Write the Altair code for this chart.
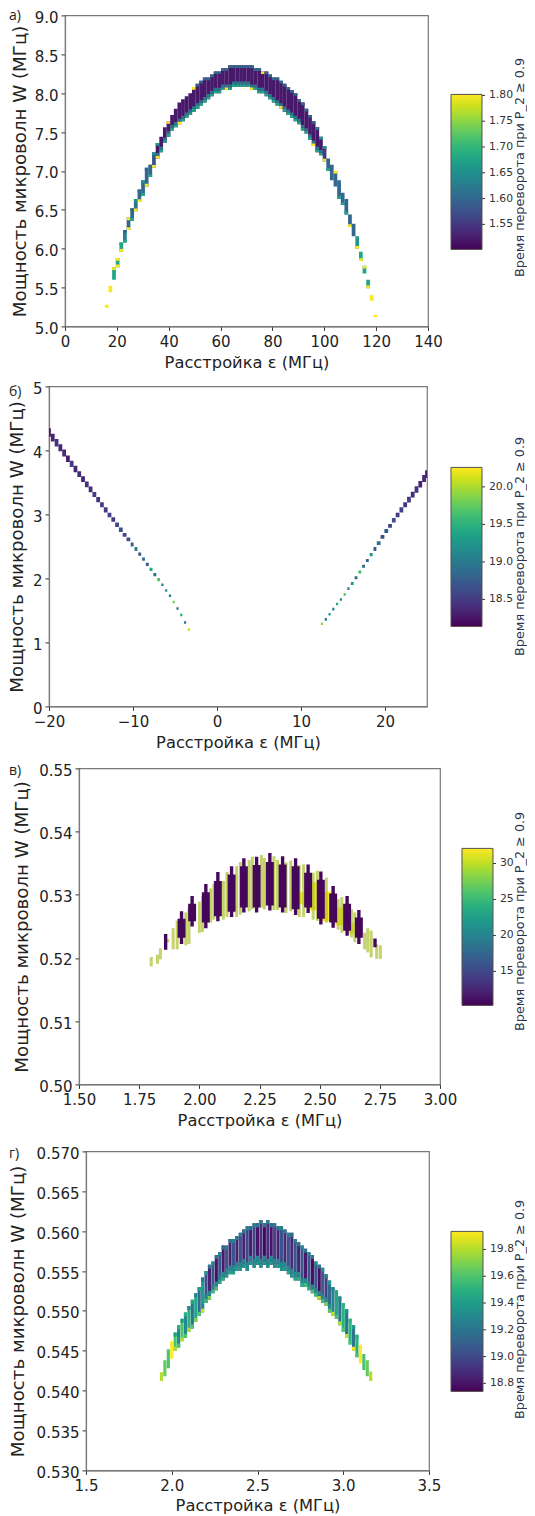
import altair as alt
import pandas as pd

# ---------- panel a ----------
a_x = [16.1,17.5,18.9,20.3,21.7,23.1,24.5,25.9,27.3,28.7,30.1,31.5,32.9,34.3,35.7,37.1,38.5,39.9,41.3,42.7,
       44.1,45.5,46.9,48.3,49.7,51.1,52.5,53.9,55.3,56.7,58.1,59.5,60.9,62.3,63.7,65.1,66.5,67.9,69.3,70.7,
       72.1,73.5,74.9,76.3,77.7,79.1,80.5,81.9,83.3,84.7,86.1,87.5,88.9,90.3,91.7,93.1,94.5,95.9,97.3,98.7,
       100.1,101.5,102.9,104.3,105.7,107.1,108.5,109.9,111.3,112.7,114.1,115.5,116.9,118.3,119.7]
a_low = [5.24,5.44,5.60,5.76,5.96,6.08,6.24,6.36,6.48,6.60,6.68,6.80,6.92,7.04,7.16,7.24,7.36,7.44,7.52,7.56,
         7.60,7.64,7.68,7.72,7.76,7.80,7.84,7.88,7.92,7.96,8.00,8.00,8.04,8.04,8.04,8.08,8.08,8.08,8.08,8.08,
         8.04,8.04,8.00,8.00,7.96,7.92,7.88,7.84,7.80,7.76,7.72,7.68,7.64,7.60,7.52,7.48,7.40,7.32,7.24,7.20,
         7.12,7.00,6.88,6.80,6.64,6.56,6.44,6.28,6.16,6.00,5.84,5.68,5.49,5.33,5.12]
a_high = [5.28,5.52,5.76,5.88,6.08,6.24,6.40,6.52,6.64,6.76,6.88,7.04,7.08,7.24,7.36,7.44,7.56,7.64,7.72,7.80,
          7.88,7.92,7.96,8.00,8.08,8.12,8.16,8.20,8.20,8.24,8.28,8.28,8.32,8.32,8.36,8.36,8.36,8.36,8.36,8.36,
          8.36,8.32,8.32,8.28,8.28,8.24,8.20,8.20,8.16,8.12,8.08,8.04,8.00,7.92,7.88,7.80,7.72,7.64,7.56,7.44,
          7.32,7.16,7.08,7.00,6.88,6.72,6.64,6.44,6.32,6.16,5.96,5.78,5.60,5.40,5.15]
a_body = [1.80,1.80,1.68,1.68,1.68,1.63,1.60,1.60,1.62,1.60,1.60,1.60,1.60,1.58] + [1.52]*46 + \
         [1.55,1.60,1.60,1.60,1.60,1.60,1.60,1.60,1.60,1.66,1.68,1.68,1.68,1.80,1.80]
a_top = [None,None,1.80,1.80,1.68,1.60,1.80,1.60,1.66,1.60,1.66,1.60,1.60,1.66,1.66,None,None,1.80] + [None]*6 + \
        [1.80] + [1.60]*18 + [1.80] + [1.60]*15 + [1.66,1.66,None,None,1.80,None,None,None,None,None,None,None,1.80,None,None,None]
a_bot1 = [None,None,None,1.80,1.80,1.68,1.80,1.68,1.80,1.80,1.68,1.80,1.68,1.80,1.80,1.68,1.68,1.68,1.68,1.68,1.80] + \
         [1.68]*12 + [1.80] + [1.68]*6 + [1.80] + [1.68]*7 + [1.80] + [1.68]*8 + [1.80,1.68,1.68,1.80,1.68,None,None,
         1.68,1.68,1.68,1.80,None,1.80,1.80,None,1.80,None,None]
a_bot2 = [None]*14 + [1.62]*46 + [None]*15

# ---------- panel b ----------
b_left_x = [-20.00,-19.55,-19.10,-18.65,-18.20,-17.75,-17.30,-16.85,-16.40,-15.95,-15.50,-15.05,-14.60,-14.15,-13.70,-13.25,
            -12.80,-12.35,-11.90,-11.45,-11.00,-10.55,-10.10,-9.65,-9.20,-8.75,-8.30,-7.85,-7.40,-6.95,-6.50,-6.05,-5.60,-5.15,-4.70,-4.25,-3.80,-3.35]
b_left_w = [4.28,4.20,4.12,4.04,3.96,3.87,3.79,3.71,3.63,3.55,3.47,3.39,3.31,3.23,3.15,3.07,2.99,2.92,2.84,2.76,2.68,2.61,2.53,
            2.46,2.38,2.30,2.22,2.14,2.06,1.98,1.90,1.81,1.73,1.63,1.53,1.43,1.31,1.20]
b_left_thick = [.13,.12,.12,.11,.11,.10,.10,.10,.09,.09,.09,.09,.08,.08,.08,.08,.07,.07,.07,.07,.06,.06,.06,.06,.05,.05,.05,.05,.05,.05,
                .04,.04,.04,.04,.04,.04,.04,.04]
b_left_half = [.225]*22 + [.17]*8 + [.13]*8
b_left_t = [18.3,18.35,18.45,18.35,18.4,18.3,18.5,18.35,18.4,18.35,18.45,18.4,18.5,18.45,18.55,18.5,18.55,18.5,18.6,18.65,
            18.55,18.65,18.75,19.0,18.65,18.9,18.75,19.4,18.9,19.7,19.0,19.2,19.0,19.8,18.9,19.5,19.0,20.1]
b_right_x = [12.50,12.95,13.40,13.85,14.30,14.75,15.20,15.65,16.10,16.55,17.00,17.45,17.90,18.35,18.80,19.25,19.70,20.15,20.60,
             21.05,21.50,21.95,22.40,22.85,23.30,23.75,24.20,24.65,25.00]
b_right_w = [1.29,1.36,1.44,1.52,1.60,1.67,1.75,1.84,1.92,2.01,2.10,2.19,2.28,2.37,2.46,2.55,2.65,2.74,2.82,2.91,2.99,3.07,3.15,
             3.23,3.31,3.39,3.47,3.56,3.63]
b_right_thick = [.04]*8 + [.05]*6 + [.06]*4 + [.06,.07,.07,.08,.08,.09,.09,.10,.10,.11,.12]
b_right_half = [.13]*8 + [.17]*7 + [.225]*14
b_right_t = [19.9,19.0,19.3,19.0,19.4,19.1,19.7,19.0,19.3,18.9,19.6,18.9,18.85,19.2,18.75,18.9,18.65,18.75,18.55,18.65,18.5,18.55,18.45,
             18.5,18.4,18.45,18.35,18.35,18.3]

# ---------- panel c ----------
c_stripe_x = [1.86,1.926,1.97,2.027,2.077,2.134,2.185,2.238,2.293,2.346,2.40,2.452,2.505,2.556,2.614,2.663,2.73]
c_stripe_lo = [.5213,.5222,.525,.5247,.5258,.5265,.5272,.5272,.5275,.5272,.5268,.5271,.5253,.5248,.5235,.5222,.5217]
c_stripe_hi = [.5238,.5274,.5298,.5317,.5336,.5345,.5358,.536,.5366,.5361,.5358,.5348,.5337,.5314,.5298,.5276,.5231]
c_wide_lo = [None,.5232,.5258,.5256,.5266,.5273,.528,.528,.5283,.528,.5277,.528,.5262,.5256,.5243,.5232,None]
c_wide_hi = [None,.5262,.5286,.5304,.5322,.5332,.5345,.5347,.5352,.5348,.5345,.5335,.5324,.5302,.5286,.5264,None]
c_bar_x = [1.80,1.826,1.838,1.869,1.891,1.908,1.944,1.957,2.0,2.013,2.047,2.06,2.1,2.115,2.155,2.17,2.207,2.22,2.258,2.27,2.31,2.325,
           2.36,2.38,2.415,2.433,2.473,2.49,2.528,2.577,2.592,2.632,2.646,2.687,2.70,2.714,2.737,2.752]
c_bar_lo = [.5187,.5191,.5198,.5225,.5214,.5214,.522,.5222,.524,.5241,.5256,.5261,.5261,.5265,.5265,.5269,.5274,.5277,.528,.5277,.5276,
            .5276,.5271,.5274,.5265,.5265,.5261,.5259,.5256,.5245,.524,.5233,.5225,.5214,.5209,.5201,.5199,.5199]
c_bar_hi = [.5201,.5205,.5215,.523,.5247,.5259,.5272,.528,.5289,.5298,.531,.5317,.5322,.5336,.5345,.5352,.5355,.536,.5363,.5358,.5361,
            .5355,.5351,.5354,.5347,.5348,.5335,.5338,.5327,.5293,.5296,.5277,.5272,.524,.5247,.5243,.5222,.522]
c_yellow_x = [2.43,2.475,2.53,2.585,2.64]
c_yellow_lo = [.5285,.5275,.5258,.5252,.5238]
c_yellow_hi = [.5305,.532,.5305,.528,.5255]

# ---------- panel d ----------
d_x = [1.94,1.96,1.98,2.00,2.02,2.04,2.06,2.08,2.10,2.12,2.14,2.16,2.18,2.20,2.22,2.24,2.26,2.28,2.30,2.32,2.34,2.36,2.38,2.40,2.42,
       2.44,2.46,2.48,2.50,2.52,2.54,2.56,2.58,2.60,2.62,2.64,2.66,2.68,2.70,2.72,2.74,2.76,2.78,2.80,2.82,2.84,2.86,2.88,2.90,2.92,
       2.94,2.96,2.98,3.00,3.02,3.04,3.06,3.08,3.10,3.12,3.14,3.16]
d_low = [.5412,.5418,.5428,.5440,.5450,.5454,.5462,.5466,.5474,.5478,.5486,.5494,.5498,.5510,.5514,.5522,.5526,.5534,.5538,.5542,.5546,
         .5546,.5550,.5550,.5554,.5550,.5558,.5554,.5558,.5554,.5558,.5554,.5558,.5554,.5554,.5550,.5550,.5546,.5542,.5538,.5538,.5530,
         .5530,.5526,.5522,.5518,.5514,.5510,.5506,.5498,.5494,.5490,.5482,.5474,.5466,.5458,.5450,.5442,.5434,.5426,.5418,.5412]
d_high = [.5423,.5438,.5452,.5462,.5473,.5482,.5490,.5498,.5506,.5514,.5522,.5530,.5542,.5550,.5558,.5562,.5570,.5574,.5582,.5582,.5590,
          .5590,.5594,.5598,.5602,.5606,.5606,.5610,.5610,.5614,.5610,.5614,.5610,.5610,.5606,.5606,.5602,.5598,.5598,.5590,.5586,.5582,
          .5578,.5574,.5570,.5562,.5558,.5554,.5546,.5538,.5530,.5526,.5518,.5510,.5502,.5490,.5482,.5470,.5458,.5446,.5438,.5424]
d_body = [19.8,19.65,19.6,19.95,19.6,19.3,19.6,19.3,19.5,19.2,19.45,19.15,19.4,19.05,18.85,19.05,18.8,19.05,18.82,19.05,18.85,19.05,18.85,
          19.05,18.85,19.0,18.82,18.98,18.8,18.92,18.76,18.9,18.8,18.98,18.85,19.05,18.88,19.05,18.88,19.05,18.85,19.05,18.82,19.05,18.78,
          19.05,18.78,19.08,18.95,19.15,19.25,19.45,19.2,19.5,19.2,19.5,19.2,19.5,19.95,19.6,19.65,19.8]
d_top = [None]*4 + [19.4,19.5,19.35,19.5,19.3,19.45,19.25,19.4,19.2,19.35,19.2,19.3,19.2,19.3,19.2,19.25,19.2,19.25,19.2,19.25,19.2,
                    19.25,19.2,19.25,19.2,19.25,19.2,19.25,19.2,19.25,19.2,19.25,19.2,19.25,19.2,19.25,19.2,19.3,19.2,19.3,19.2,19.3,
                    19.2,19.35,19.25,19.4,19.3,19.45,19.3,19.5,19.35,19.5,19.4,19.5] + [None]*4
d_bot1 = [None]*4 + [19.8,19.6,19.8,19.6,19.8,19.6,19.7,19.6,19.85,19.55,19.7,19.55,19.6,19.45,19.5,19.4,19.45,19.4,19.4,19.4,19.4,
                     19.35,19.4,19.35,19.35,19.35,19.35,19.35,19.4,19.35,19.4,19.35,19.4,19.45,19.4,19.45,19.5,19.5,19.55,19.5,19.6,
                     19.55,19.8,19.55,19.7,19.6,19.85,19.6,19.8,19.6,19.85,19.6,19.9,19.6] + [None]*4
d_bot2 = [None]*12 + [19.3]*38 + [None]*12

# ---------- axes, colour bars, text ----------
a_x_ticks = [0,20,40,60,80,100,120,140]
a_y_ticks = [5.0,5.5,6.0,6.5,7.0,7.5,8.0,8.5,9.0]
b_x_ticks = [-20,-10,0,10,20]
b_y_ticks = [0,1,2,3,4,5]
c_x_ticks = [1.50,1.75,2.00,2.25,2.50,2.75,3.00]
c_y_ticks = [0.50,0.51,0.52,0.53,0.54,0.55]
d_x_ticks = [1.5,2.0,2.5,3.0,3.5]
d_y_ticks = [0.530,0.535,0.540,0.545,0.550,0.555,0.560,0.565,0.570]
a_cb_ticks = [1.55,1.60,1.65,1.70,1.75,1.80]
b_cb_ticks = [18.5,19.0,19.5,20.0]
c_cb_ticks = [15,20,25,30]
d_cb_ticks = [18.8,19.0,19.2,19.4,19.6,19.8]
X_TITLE = "Расстройка ε (МГц)"
Y_TITLE = "Мощность микроволн W (МГц)"
CB_TITLE = "Время переворота при P_2 ≥ 0.9"
FRAME = "#7d7775"
TEXT = "#222222"


def columns(xs, low, high, body, top, bot1, bot2, half, h_top, h_b1, h_b2):
    rows = []
    for x, lo, hi, b, t, b1, b2 in zip(xs, low, high, body, top, bot1, bot2):
        rows.append((x - half, x + half, lo, hi, b, 1.0))
        y = lo
        if b1 is not None:
            rows.append((x - half, x + half, y, min(y + h_b1, hi), b1, 1.0))
            y += h_b1
        if b2 is not None:
            rows.append((x - half, x + half, y, min(y + h_b2, hi), b2, 1.0))
        if t is not None:
            rows.append((x - half, x + half, max(hi - h_top, lo), hi, t, 1.0))
    return rows


rows_a = columns(a_x, a_low, a_high, a_body, a_top, a_bot1, a_bot2, 0.72, 0.035, 0.035, 0.035)

rows_b = []
for x, w, th, hf, t in list(zip(b_left_x, b_left_w, b_left_thick, b_left_half, b_left_t)) + \
        list(zip(b_right_x, b_right_w, b_right_thick, b_right_half, b_right_t)):
    rows_b.append((x - hf, x + hf, w - th / 2, w + th / 2, t, 1.0))

rows_c = []
for x, lo, hi in zip(c_yellow_x, c_yellow_lo, c_yellow_hi):
    rows_c.append((x - 0.02, x + 0.02, lo, hi, 32.0, 1.0))
for x, lo, hi in zip(c_bar_x, c_bar_lo, c_bar_hi):
    rows_c.append((x - 0.0058, x + 0.0058, lo, hi, 10.6, 0.25))
    rows_c.append((x - 0.0058, x + 0.0058, lo, hi, 30.0, 0.65))
for x, lo, hi, wl, wh in zip(c_stripe_x, c_stripe_lo, c_stripe_hi, c_wide_lo, c_wide_hi):
    rows_c.append((x - 0.007, x + 0.007, lo, hi, 10.6, 1.0))
    if wl is not None:
        rows_c.append((x - 0.0165, x + 0.0165, wl, wh, 10.6, 1.0))

rows_d = columns(d_x, d_low, d_high, d_body, d_top, d_bot1, d_bot2, 0.0092, 0.0005, 0.0005, 0.0006)


def axis_args(title, size, pad, title_pad, ticks, fmt):
    return dict(values=ticks, format=fmt, title=title, grid=False, domainColor=FRAME, domainWidth=1.2,
                tickColor="#333333", tickSize=4, labelFontSize=15, titleFontSize=size,
                labelFont="DejaVu Sans", titleFont="DejaVu Sans", titleFontWeight="normal",
                labelColor=TEXT, titleColor=TEXT, labelPadding=pad, titlePadding=title_pad,
                labelOverlap=False)


def panel(rows, letter, letter_y, x_dom, y_dom, x_ticks, y_ticks, x_fmt, y_fmt, x_left, y_top, w, h,
          cb_dom, cb_ticks, cb_fmt, cb_x, cb_y, cb_len, cb_thick, title_cy, next_top, page_top,
          x_pad, y_pad):
    df = pd.DataFrame(rows, columns=["x0", "x1", "y0", "y1", "t", "o"])
    rect = alt.Chart(df).mark_rect(clip=True).encode(
        x=alt.X("x0:Q", scale=alt.Scale(domain=x_dom, nice=False, zero=False),
                axis=alt.Axis(labelFlush=False, **axis_args(X_TITLE, 16.3, 4, x_pad, x_ticks, x_fmt))),
        x2="x1:Q",
        y=alt.Y("y0:Q", scale=alt.Scale(domain=y_dom, nice=False, zero=False),
                axis=alt.Axis(labelOffset=2, **axis_args(Y_TITLE, 18.2, 3, y_pad, y_ticks, y_fmt))),
        y2="y1:Q",
        color=alt.Color("t:Q", scale=alt.Scale(scheme="viridis", domain=cb_dom, nice=False, zero=False),
                        legend=alt.Legend(orient="none", legendX=cb_x - x_left, legendY=cb_y - y_top, title=None,
                                          gradientLength=cb_len, gradientThickness=cb_thick,
                                          gradientStrokeColor="#55504e", gradientStrokeWidth=1,
                                          values=cb_ticks, format=cb_fmt, labelFontSize=10.8,
                                          labelFont="DejaVu Sans", labelColor="#333333", labelOffset=7,
                                          labelOverlap=False)),
        opacity=alt.Opacity("o:Q", scale=None),
    )
    one = alt.Chart(pd.DataFrame({"v": [0]}))
    lab = one.mark_text(align="left", baseline="middle", font="Open Sans", fontSize=14, color=TEXT).encode(
        x=alt.value(9 - x_left), y=alt.value(letter_y), text=alt.value(letter))
    vt = one.mark_text(align="center", baseline="middle", angle=270, font="DejaVu Sans", fontSize=12.8,
                       color="#2c3550").encode(
        x=alt.value(520.5 - x_left), y=alt.value(title_cy - y_top), text=alt.value(CB_TITLE))
    anchor = one.mark_rule(opacity=0, strokeWidth=0).encode(
        x=alt.value(1 - x_left), y=alt.value(page_top - y_top), y2=alt.value(next_top - y_top))
    cb_ticks_layers = []
    for v in cb_ticks:
        py = cb_y - y_top + (cb_dom[1] - v) / (cb_dom[1] - cb_dom[0]) * cb_len
        cb_ticks_layers.append(one.mark_rule(color="#333333", strokeWidth=1).encode(
            x=alt.value(cb_x - x_left + cb_thick), x2=alt.value(cb_x - x_left + cb_thick + 3), y=alt.value(py)))
    chart = alt.layer(anchor, rect, lab, vt, *cb_ticks_layers).properties(width=w, height=h)
    spacer = one.mark_rule(opacity=0, strokeWidth=0).encode(x=alt.value(0), y=alt.value(0)).properties(
        width=1, height=1, view=alt.ViewBackground(stroke="transparent"))
    return alt.hconcat(spacer, chart, spacing=0).resolve_scale(color="independent")


pa = panel(rows_a, "а)", 1, [0, 140], [5, 9], a_x_ticks, a_y_ticks, "d", ".1f", 65, 15, 363, 311,
           [1.5015, 1.802], a_cb_ticks, ".2f", 451, 94, 155, 31, 167, 372, 8, 5, 5)
pb = panel(rows_b, "б)", 6, [-20, 25], [0, 5], b_x_ticks, b_y_ticks, "d", "d", 49, 387, 378, 320,
           [18.14, 20.26], b_cb_ticks, ".1f", 451, 468, 159, 31, 547, 750, 375, 5, 6)
pc = panel(rows_c, "в)", 3, [1.5, 3.0], [0.5, 0.55], c_x_ticks, c_y_ticks, ".2f", ".2f", 79, 769, 361, 316,
           [10.27, 32.1], c_cb_ticks, "d", 462, 849, 157, 31, 922, 1135, 753, 5, 7)
pd_ = panel(rows_d, "г)", 3, [1.5, 3.5], [0.53, 0.57], d_x_ticks, d_y_ticks, ".1f", ".3f", 86, 1152, 343, 319,
            [18.74, 19.935], d_cb_ticks, ".1f", 451, 1232, 160, 32, 1310, 1508, 1137, 4, 9)

chart = alt.vconcat(pa, pb, pc, pd_, spacing=0).properties(
    padding={"left": -11, "top": -0.6, "right": -1, "bottom": 0}, background="white"
).resolve_scale(color="independent").configure_view(stroke=FRAME, strokeWidth=1.2)

chart.save("out.html", embed_options={"renderer": "svg", "actions": False})
